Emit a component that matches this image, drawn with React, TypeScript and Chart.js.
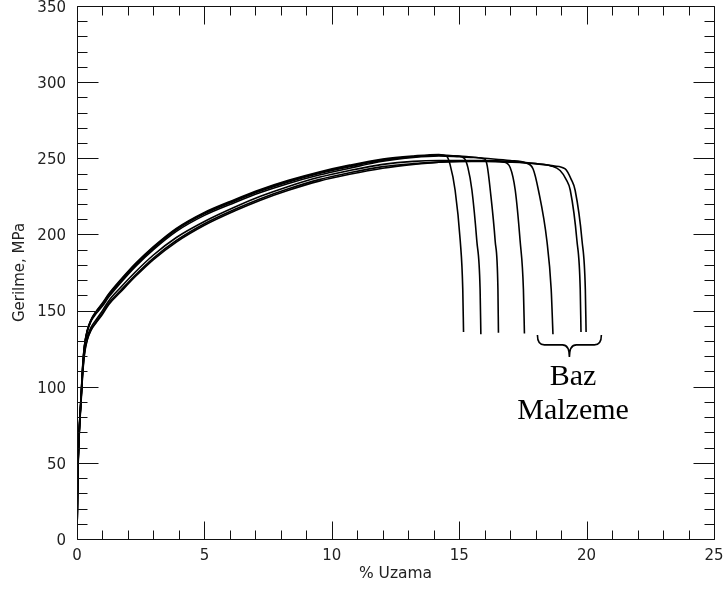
import React, { useEffect, useRef } from "react";
import { Chart, registerables } from "chart.js";

Chart.register(...registerables);

// ---- Data ----
const xTickValues = [0, 5, 10, 15, 20, 25];
const yTickValues = [0, 50, 100, 150, 200, 250, 300, 350];
const xTitle = "% Uzama";
const yTitle = "Gerilme, MPa";
const annotationLines = ["Baz", "Malzeme"];

// shared strain grid for the elastic + hardening part (% elongation)
const riseX = [0, 0.02, 0.05, 0.1, 0.16, 0.2, 0.24, 0.3, 0.4, 0.55, 0.75, 1.0, 1.25, 1.7, 2.3, 3, 3.9, 5, 6.2, 7.2, 8.3, 9.5, 10.7, 12, 13.2, 14.2];

// stress values (MPa) of each specimen on riseX
const curve1Rise = [0, 30, 55, 76, 94, 107, 118, 128, 137, 144, 149.5, 155, 161, 170, 181, 192, 204, 214.5, 223, 229.5, 235.5, 241, 245.5, 249.5, 251.5, 252.5];
const curve2Rise = [0, 29, 54, 75, 93, 106, 117, 127.5, 136.5, 143.5, 149, 154, 160, 169, 180, 191, 203, 213.5, 222, 228.5, 234.5, 240, 244.5, 248.5, 251, 252];
const curve3Rise = [0, 28, 53, 74, 92, 105, 116, 127, 136, 143, 148, 153, 159, 168, 179, 190, 202, 212.5, 221, 227.5, 233.5, 239, 243.5, 248, 250.5, 251.5];
const curve4Rise = [0, 28, 53, 74, 91, 103, 113, 123, 131, 137.5, 142.5, 148.5, 155, 163, 173.5, 184.5, 196, 207, 216.5, 223.5, 230, 236, 240.5, 244.5, 246.5, 247.5];
const curve5Rise = [0, 30, 55, 76, 93, 106, 117, 127.5, 136.5, 143.5, 149, 154.5, 160.5, 169.5, 180.5, 191.5, 203.5, 214, 222.5, 229, 235, 240.5, 245, 249, 251, 252];
const curve6Rise = [0, 29, 54, 75, 92, 104, 114, 124, 132.5, 139, 144, 150, 156.5, 165, 175.5, 186.5, 198, 208.5, 218, 225, 231.5, 237.5, 242, 246, 248, 248.5];
const curve7Rise = [0, 28, 52, 73, 90, 102, 112, 122, 130.5, 137, 142, 147.5, 154, 162, 172.5, 183.5, 195, 206, 215.5, 222.5, 229, 235, 239.5, 243.5, 246, 247.5];

// plateau + fracture drop of each specimen: [strain %, stress MPa]
const curve1Tail: [number, number][] = [[14.5, 251.5], [14.64, 246], [14.84, 229], [15.04, 196], [15.14, 164], [15.17, 136]];
const curve2Tail: [number, number][] = [[14.9, 251.5], [15.2, 250], [15.34, 244], [15.5, 229], [15.69, 196], [15.82, 164], [15.85, 134.5]];
const curve3Tail: [number, number][] = [[15, 251], [15.6, 250.5], [16, 249.5], [16.1, 245], [16.22, 229], [16.41, 196], [16.52, 164], [16.54, 135.5]];
const curve4Tail: [number, number][] = [[15, 248], [16, 248.2], [16.75, 247.5], [17.0, 244], [17.2, 229], [17.39, 196], [17.52, 164], [17.56, 135]];
const curve5Tail: [number, number][] = [[15, 251.5], [16, 250], [17, 248.5], [17.6, 247], [17.9, 243], [18.11, 229], [18.44, 196], [18.61, 164], [18.68, 134.5]];
const curve6Tail: [number, number][] = [[15, 248.5], [16, 248.5], [17, 248], [18, 246.5], [18.6, 245], [18.96, 242], [19.2, 236], [19.36, 229], [19.62, 196], [19.75, 164], [19.78, 136]];
const curve7Tail: [number, number][] = [[15, 248], [16, 248], [17, 247.5], [18, 246.5], [18.7, 245], [19.16, 243], [19.4, 236], [19.55, 229], [19.82, 196], [19.95, 164], [19.98, 136]];

const curves: [number[], [number, number][]][] = [
  [curve1Rise, curve1Tail],
  [curve2Rise, curve2Tail],
  [curve3Rise, curve3Tail],
  [curve4Rise, curve4Tail],
  [curve5Rise, curve5Tail],
  [curve6Rise, curve6Tail],
  [curve7Rise, curve7Tail],
];

// annotation anchor (data units)
const braceLeft = 18.07;
const braceRight = 20.58;
const braceTopY = 134;
const braceMidY = 127.5;
const braceTipY = 119.5;
const textX = 19.47;
const textBaselines = [101, 78.6];

const SANS = "'DejaVu Sans', sans-serif";

const framePlugin = {
  id: "frameTicks",
  afterDraw(chart: any) {
    const { ctx, chartArea, scales } = chart;
    const { left, right, top, bottom } = chartArea;
    const xs = scales.x;
    const ys = scales.y;
    ctx.save();
    ctx.strokeStyle = "#111";
    ctx.lineWidth = 1;
    const L = Math.round(left) + 0.5;
    const R = Math.round(right) + 0.5;
    const T = Math.round(top) + 0.5;
    const B = Math.round(bottom) + 0.5;
    ctx.beginPath();
    ctx.rect(L, T, R - L, B - T);
    ctx.stroke();

    ctx.beginPath();
    for (let v = 0; v <= 25; v += 1) {
      const p = Math.round(xs.getPixelForValue(v)) + 0.5;
      const len = xTickValues.includes(v) ? 18 : 9;
      ctx.moveTo(p, B);
      ctx.lineTo(p, B - len);
      ctx.moveTo(p, T);
      ctx.lineTo(p, T + len);
    }
    for (let v = 0; v <= 350; v += 10) {
      const p = Math.round(ys.getPixelForValue(v)) + 0.5;
      const len = yTickValues.includes(v) ? 21 : 10;
      ctx.moveTo(L, p);
      ctx.lineTo(L + len, p);
      ctx.moveTo(R, p);
      ctx.lineTo(R - len, p);
    }
    ctx.stroke();

    // curly brace
    const bl = xs.getPixelForValue(braceLeft);
    const br = xs.getPixelForValue(braceRight);
    const bc = (bl + br) / 2;
    const bt = ys.getPixelForValue(braceTopY);
    const bm = ys.getPixelForValue(braceMidY);
    const btip = ys.getPixelForValue(braceTipY);
    ctx.lineWidth = 1.6;
    ctx.strokeStyle = "#000";
    ctx.beginPath();
    ctx.moveTo(bl, bt);
    ctx.quadraticCurveTo(bl, bm, bl + 7, bm);
    ctx.lineTo(bc - 7, bm);
    ctx.quadraticCurveTo(bc, bm, bc, btip);
    ctx.quadraticCurveTo(bc, bm, bc + 7, bm);
    ctx.lineTo(br - 7, bm);
    ctx.quadraticCurveTo(br, bm, br, bt);
    ctx.stroke();

    ctx.fillStyle = "#000";
    ctx.font = "30px 'Liberation Serif', 'Times New Roman', serif";
    ctx.textAlign = "center";
    ctx.textBaseline = "alphabetic";
    const tx = xs.getPixelForValue(textX);
    annotationLines.forEach((t, i) => {
      ctx.fillText(t, tx, ys.getPixelForValue(textBaselines[i]));
    });
    ctx.restore();
  },
};

const zeroPadding = (s: any) => {
  s.paddingTop = 0;
  s.paddingBottom = 0;
  s.paddingLeft = 0;
  s.paddingRight = 0;
};

export default function App() {
  const canvasRef = useRef<HTMLCanvasElement | null>(null);

  useEffect(() => {
    const canvas = canvasRef.current;
    if (!canvas) return;
    const datasets = curves.map(([rise, tail], i) => ({
      label: "Numune " + (i + 1),
      data: riseX
        .map((x, j) => ({ x, y: rise[j] }))
        .concat(tail.map(([x, y]) => ({ x, y }))),
      borderColor: "#000",
      borderWidth: 1.6,
      pointRadius: 0,
      fill: false,
      cubicInterpolationMode: "monotone" as const,
    }));

    const chart = new Chart(canvas, {
      type: "line",
      data: { datasets },
      options: {
        animation: false,
        responsive: false,
        devicePixelRatio: 1,
        parsing: false as any,
        layout: { padding: { top: 6, right: 12, left: 0, bottom: 0 } },
        plugins: {
          legend: { display: false },
          tooltip: { enabled: false },
        },
        scales: {
          x: {
            type: "linear",
            min: 0,
            max: 25,
            grid: { display: false, drawTicks: false },
            border: { display: false },
            ticks: {
              stepSize: 5,
              padding: 8,
              maxRotation: 0,
              color: "#222",
              font: { family: SANS, size: 15, lineHeight: 1.2 },
            },
            title: {
              display: true,
              text: xTitle,
              color: "#222",
              font: { family: SANS, size: 15.5, lineHeight: 1.2 },
              padding: { top: 0, bottom: 7 },
            },
            afterFit: (s: any) => {
              s.height = 51;
              zeroPadding(s);
            },
          },
          y: {
            type: "linear",
            min: 0,
            max: 350,
            grid: { display: false, drawTicks: false },
            border: { display: false },
            ticks: {
              stepSize: 50,
              padding: 11,
              labelOffset: 2,
              color: "#222",
              font: { family: SANS, size: 15, lineHeight: 1.2 },
            },
            title: {
              display: true,
              text: yTitle,
              color: "#222",
              font: { family: SANS, size: 15, lineHeight: 1.2 },
              padding: { top: 11, bottom: 0 },
            },
            afterFit: (s: any) => {
              s.width = 77;
              zeroPadding(s);
            },
          },
        },
      },
      plugins: [framePlugin],
    });
    return () => chart.destroy();
  }, []);

  return (
    <div style={{ position: "fixed", left: 0, top: 0, width: 726, height: 590, background: "#fff" }}>
      <canvas ref={canvasRef} width={726} height={590} />
    </div>
  );
}
